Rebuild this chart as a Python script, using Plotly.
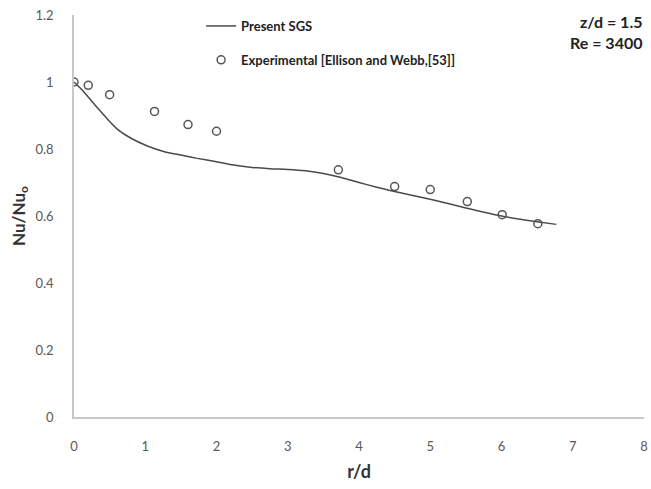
import plotly.graph_objects as go

# Present SGS prediction: radial Nusselt-number ratio
sgs_r = [0, 0.1, 0.2, 0.3, 0.4, 0.5, 0.62, 0.8, 1.03, 1.27, 1.5, 1.73, 2.0,
         2.24, 2.5, 2.75, 3.0, 3.25, 3.5, 3.75, 4.0, 4.25, 4.5, 5.0, 5.5,
         6.0, 6.5, 6.77]
sgs_nu = [1.0, 0.979, 0.955, 0.93, 0.906, 0.882, 0.857, 0.832, 0.809, 0.792,
          0.782, 0.772, 0.762, 0.752, 0.745, 0.741, 0.739, 0.735, 0.727,
          0.715, 0.700, 0.686, 0.673, 0.650, 0.624, 0.600, 0.583, 0.575]

# Experimental data (Ellison and Webb)
exp_r = [0, 0.2, 0.5, 1.13, 1.6, 2.0, 3.71, 4.5, 5.0, 5.52, 6.01, 6.51]
exp_nu = [1.0, 0.99, 0.962, 0.912, 0.873, 0.853, 0.738, 0.688, 0.679,
          0.643, 0.604, 0.577]

x_ticks = [0, 1, 2, 3, 4, 5, 6, 7, 8]
y_ticks = [0, 0.2, 0.4, 0.6, 0.8, 1.0, 1.2]
y_tick_text = ["0", "0.2", "0.4", "0.6", "0.8", "1", "1.2"]

FONT = "Lato"
legend_font = dict(family=FONT, size=13, color="#222222", weight="bold")

fig = go.Figure()
fig.add_trace(go.Scatter(
    x=sgs_r, y=sgs_nu, mode="lines", name="Present SGS",
    line=dict(color="#4a4a4a", width=1.5, shape="spline", smoothing=0.6),
    legendgroup="sgs",
))
fig.add_trace(go.Scatter(
    x=exp_r, y=exp_nu, mode="markers",
    name="Experimental [Ellison and Webb,[53]]",
    marker=dict(symbol="circle-open", size=8, color="#555555",
                line=dict(width=1.5, color="#555555")),
    legendgroup="exp",
))

fig.update_layout(
    width=651, height=489,
    margin=dict(l=74, r=3, t=15, b=72),
    paper_bgcolor="white", plot_bgcolor="white",
    font=dict(family=FONT, color="#595959"),
    showlegend=True,
    legend=dict(x=0.223, y=1.01, xanchor="left", yanchor="top",
                font=legend_font, itemwidth=30, tracegroupgap=14,
                bgcolor="rgba(0,0,0,0)"),
    xaxis=dict(range=[0, 8], tickvals=x_ticks, showgrid=False,
               zeroline=False, showline=True, linecolor="#c8c8c8",
               linewidth=1.5, ticks="outside", ticklen=17,
               tickcolor="rgba(0,0,0,0)", ticklabeloverflow="allow",
               tickfont=dict(family=FONT, size=13, color="#595959"),
               title=dict(text="r/d", standoff=12,
                          font=dict(family=FONT, size=18, color="#333333",
                                    weight="bold"))),
    yaxis=dict(range=[0, 1.2], tickvals=y_ticks, ticktext=y_tick_text,
               showgrid=False, zeroline=False, showline=True,
               linecolor="#c8c8c8", linewidth=1.5, ticks="outside",
               ticklen=16, tickcolor="rgba(0,0,0,0)",
               ticklabeloverflow="allow",
               tickfont=dict(family=FONT, size=13, color="#595959"),
               title=dict(text="Nu/Nu<sub>o</sub>", standoff=6,
                          font=dict(family=FONT, size=17, color="#333333",
                                    weight="bold"))),
    annotations=[
        dict(text="<b>z/d = 1.5</b><br><b>Re = 3400</b>", xref="paper",
             yref="paper", x=1.0, y=1.012, xanchor="right", yanchor="top",
             align="right", showarrow=False,
             font=dict(family=FONT, size=16, color="#222222")),
    ],
)

fig.write_html("out.html")
